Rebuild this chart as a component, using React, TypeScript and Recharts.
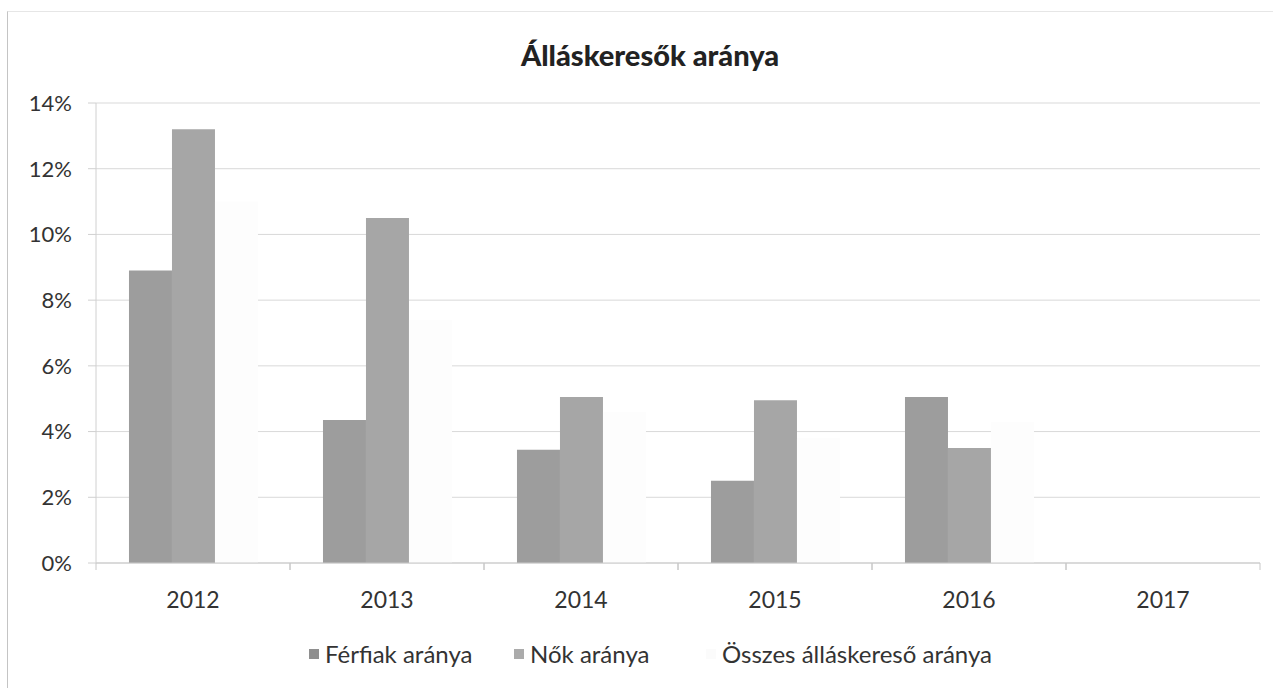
import { BarChart, Bar, XAxis, YAxis, CartesianGrid } from 'recharts';

const years = ['2012', '2013', '2014', '2015', '2016', '2017'];
const ferfiak = [8.9, 4.35, 3.45, 2.5, 5.05, null];
const nok = [13.2, 10.5, 5.05, 4.95, 3.5, null];
const osszes = [11.0, 7.4, 4.6, 3.8, 4.3, null];
const yTicks = [0, 2, 4, 6, 8, 10, 12, 14];

const data = years.map((year, i) => ({
  year,
  ferfiak: ferfiak[i],
  nok: nok[i],
  osszes: osszes[i],
}));

const FONT = 'Lato, "Open Sans", sans-serif';
const HALF_BAND = 97;

const XTick = (props: any) => {
  const { x, y, payload } = props;
  return (
    <g>
      <line x1={x - HALF_BAND} x2={x - HALF_BAND} y1={y} y2={y + 7} stroke="#c8c8c8" />
      <line x1={x + HALF_BAND} x2={x + HALF_BAND} y1={y} y2={y + 7} stroke="#c8c8c8" />
      <text x={x} y={y + 45} textAnchor="middle" fill="#333" fontSize={23} fontFamily={FONT}>
        {payload.value}
      </text>
    </g>
  );
};

// legend entries, left = marker position
const legendItems = [
  { label: 'Férfiak aránya', color: '#8f8f8f', left: 309 },
  { label: 'Nők aránya', color: '#ababab', left: 514 },
  { label: 'Összes álláskereső aránya', color: '#fbfbfb', left: 706 },
];

export default function App() {
  return (
    <div
      style={{
        position: 'absolute',
        top: 0,
        left: 0,
        width: 1276,
        height: 689,
        background: '#fff',
        fontFamily: FONT,
      }}
    >
      <div
        style={{
          position: 'absolute',
          left: 7,
          top: 11,
          width: 1265,
          height: 676,
          borderLeft: '1px solid #c4c4c4',
          borderTop: '1px solid #e6e6e6',
        }}
      />
      <div
        style={{
          position: 'absolute',
          top: 37,
          left: 12,
          width: 1276,
          textAlign: 'center',
          fontSize: 29,
          fontWeight: 900,
          color: '#222',
        }}
      >
        Álláskeresők aránya
      </div>
      <div style={{ position: 'absolute', top: 0, left: 0 }}>
        <BarChart
          width={1276}
          height={689}
          data={data}
          margin={{ top: 103, right: 16, bottom: 96, left: 0 }}
          barCategoryGap="17%"
          barGap={0}
        >
          <CartesianGrid vertical={false} stroke="#d9d9d9" />
          <XAxis
            dataKey="year"
            height={30}
            axisLine={{ stroke: '#c8c8c8' }}
            tickLine={false}
            tickSize={0}
            tickMargin={0}
            tick={<XTick />}
            interval={0}
          />
          <YAxis
            width={96}
            domain={[0, 14]}
            ticks={yTicks}
            interval={0}
            tickFormatter={(v) => `${v}%`}
            axisLine={{ stroke: '#d0d0d0' }}
            tickLine={{ stroke: '#d0d0d0' }}
            tickSize={8}
            tickMargin={16}
            tick={{ fill: '#333', fontSize: 22, fontFamily: FONT }}
          />
          <Bar dataKey="ferfiak" fill="#9d9d9d" isAnimationActive={false} />
          <Bar dataKey="nok" fill="#a6a6a6" isAnimationActive={false} />
          <Bar dataKey="osszes" fill="#fdfdfd" isAnimationActive={false} />
        </BarChart>
      </div>
      {legendItems.map((item) => (
        <div
          key={item.label}
          style={{
            position: 'absolute',
            top: 639,
            left: item.left,
            display: 'flex',
            alignItems: 'center',
            gap: 6,
            fontSize: 24,
            color: '#333',
            whiteSpace: 'nowrap',
          }}
        >
          <div style={{ width: 10, height: 10, background: item.color }} />
          <span>{item.label}</span>
        </div>
      ))}
    </div>
  );
}
